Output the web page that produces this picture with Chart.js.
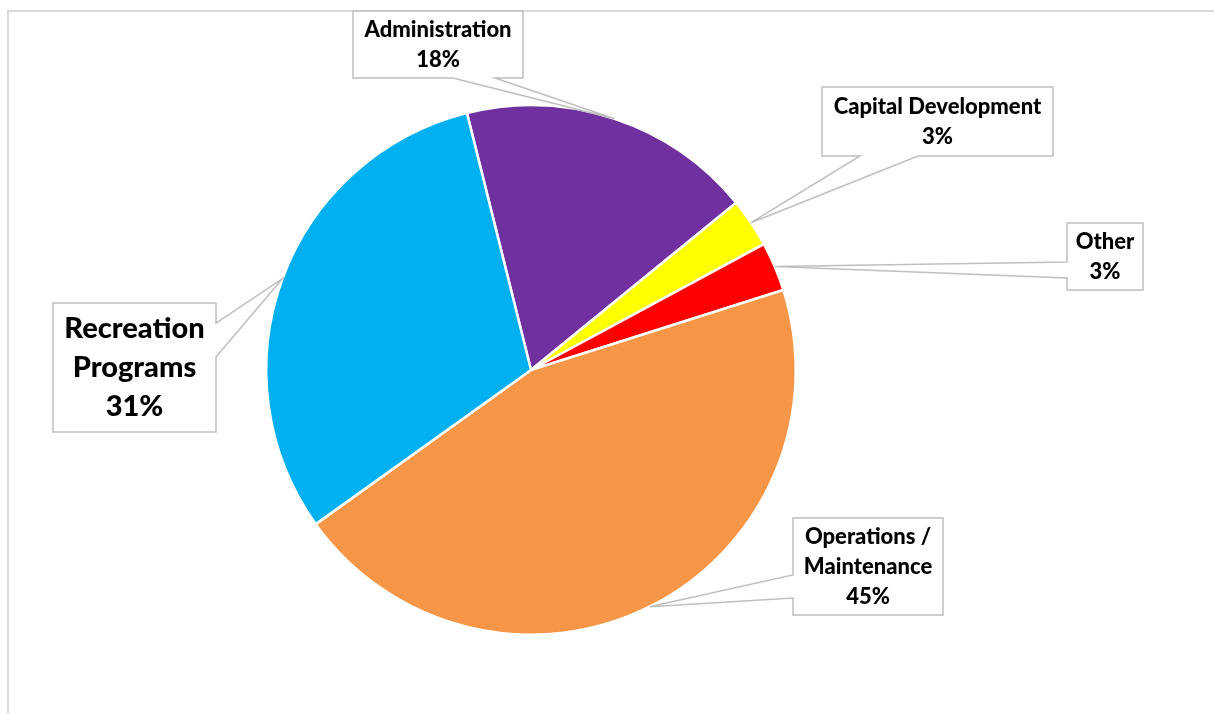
<!DOCTYPE html>
<html>
<head>
<meta charset="utf-8">
<script src="https://cdn.jsdelivr.net/npm/chart.js@4.4.1/dist/chart.umd.min.js"></script>
<style>
  html, body { margin: 0; padding: 0; background: #fff; }
  #wrap { width: 1214px; height: 713px; position: relative; }
</style>
</head>
<body>
<div id="wrap"><canvas id="pie"></canvas></div>
<script>
// data
const categories = ['Administration', 'Capital Development', 'Other', 'Operations / Maintenance', 'Recreation Programs'];
const shares = [18, 3, 3, 45, 31];
const labelLines = [['Administration'], ['Capital Development'], ['Other'], ['Operations /', 'Maintenance'], ['Recreation', 'Programs']];
const sliceColors = ['#7030a0', '#ffff00', '#ff0000', '#f79646', '#00b0f0'];

// callout boxes: box rect, which side the wedge leaves from, and the wedge base
const callouts = [
  { x: 353, y: 11, w: 170, h: 67, side: 'bottom', a: 453, b: 495, size: 22, lh: 30 },
  { x: 822, y: 87, w: 231, h: 69, side: 'bottom', a: 860, b: 918, size: 22, lh: 30 },
  { x: 1067, y: 223, w: 76, h: 67, side: 'left', a: 262, b: 278, size: 22, lh: 30 },
  { x: 793, y: 518, w: 150, h: 97, side: 'left', a: 575, b: 598, size: 22, lh: 30 },
  { x: 53, y: 303, w: 163, h: 129, side: 'right', a: 323, b: 357, size: 29, lh: 39 }
];

const frameLines = {
  id: 'frameLines',
  beforeDraw(chart) {
    const c = chart.ctx;
    c.save();
    c.strokeStyle = '#d9d9d9';
    c.lineWidth = 2;
    c.beginPath();
    c.moveTo(8, 713);
    c.lineTo(8, 11);
    c.lineTo(1214, 11);
    c.stroke();
    c.restore();
  }
};

const calloutLabels = {
  id: 'calloutLabels',
  afterDatasetsDraw(chart) {
    const c = chart.ctx;
    const arcs = chart.getDatasetMeta(0).data;
    arcs.forEach((arc, i) => {
      const box = callouts[i];
      const mid = (arc.startAngle + arc.endAngle) / 2;
      const tx = arc.x + Math.cos(mid) * arc.outerRadius;
      const ty = arc.y + Math.sin(mid) * arc.outerRadius;
      const x0 = box.x, y0 = box.y, x1 = box.x + box.w, y1 = box.y + box.h;

      c.save();
      c.beginPath();
      c.moveTo(x0, y0);
      c.lineTo(x1, y0);
      if (box.side === 'right') {
        c.lineTo(x1, box.a); c.lineTo(tx, ty); c.lineTo(x1, box.b);
      }
      c.lineTo(x1, y1);
      if (box.side === 'bottom') {
        c.lineTo(box.b, y1); c.lineTo(tx, ty); c.lineTo(box.a, y1);
      }
      c.lineTo(x0, y1);
      if (box.side === 'left') {
        c.lineTo(x0, box.b); c.lineTo(tx, ty); c.lineTo(x0, box.a);
      }
      c.closePath();
      c.fillStyle = '#ffffff';
      c.fill();
      c.strokeStyle = '#bfbfbf';
      c.lineWidth = 1.5;
      c.stroke();

      const lines = labelLines[i].concat([shares[i] + '%']);
      c.fillStyle = '#000';
      c.font = '900 ' + box.size + 'px Lato, "Open Sans", sans-serif';
      c.textAlign = 'center';
      c.textBaseline = 'middle';
      const cx = box.x + box.w / 2;
      const top = box.y + box.h / 2 - (lines.length - 1) * box.lh / 2;
      lines.forEach((t, k) => c.fillText(t, cx, top + k * box.lh));
      c.restore();
    });
  }
};

new Chart(document.getElementById('pie'), {
  type: 'pie',
  data: {
    labels: categories,
    datasets: [{
      data: shares,
      backgroundColor: sliceColors,
      borderColor: '#ffffff',
      borderWidth: 2.5
    }]
  },
  options: {
    responsive: true,
    maintainAspectRatio: false,
    animation: false,
    rotation: -14,
    layout: { padding: { left: 265, right: 417, top: 104, bottom: 77 } },
    plugins: {
      legend: { display: false },
      tooltip: { enabled: false }
    }
  },
  plugins: [frameLines, calloutLabels]
});
</script>
</body>
</html>
